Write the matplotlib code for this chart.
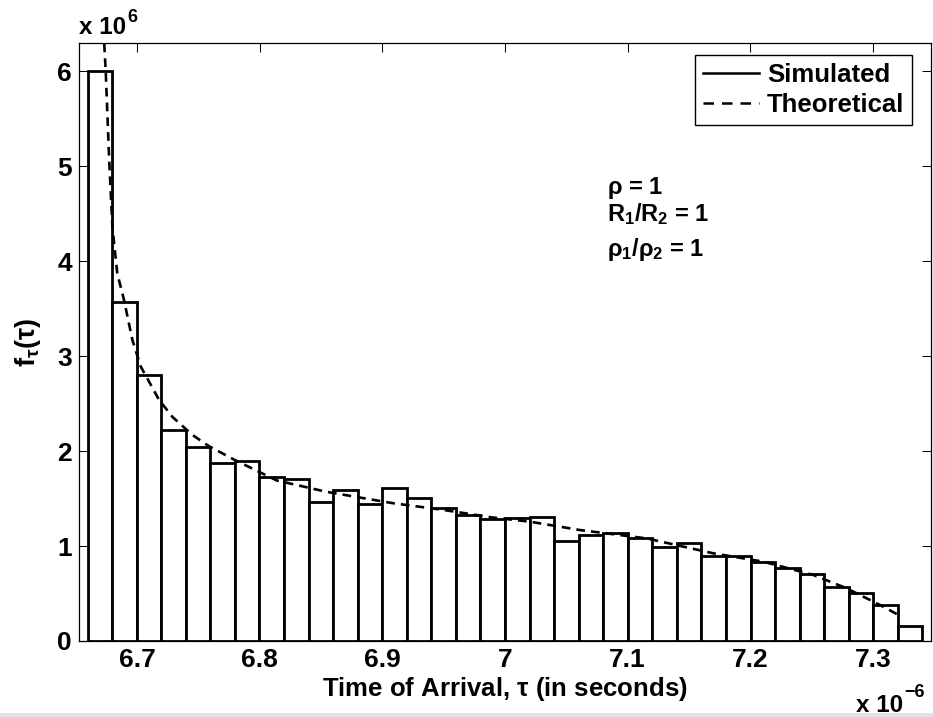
import numpy as np
import matplotlib
matplotlib.use("Agg")
import matplotlib.pyplot as plt
from matplotlib.lines import Line2D
from matplotlib.patches import Rectangle

plt.rcParams['font.family'] = ['Liberation Sans', 'DejaVu Sans']
plt.rcParams['font.weight'] = 'bold'
plt.rcParams['mathtext.fontset'] = 'custom'
plt.rcParams['mathtext.rm'] = 'Liberation Sans:bold'
plt.rcParams['mathtext.bf'] = 'Liberation Sans:bold'
plt.rcParams['mathtext.it'] = 'Liberation Sans:bold'

# histogram of simulated arrival times (x in microseconds, heights in 1e6)
bin_lo, bin_hi, n_bins = 6.6597, 7.3403, 34
sim_heights = [6.00, 3.57, 2.80, 2.22, 2.04, 1.87, 1.90, 1.73, 1.71, 1.46,
               1.59, 1.44, 1.61, 1.51, 1.40, 1.33, 1.28, 1.29, 1.31, 1.05,
               1.12, 1.14, 1.08, 0.99, 1.03, 0.89, 0.89, 0.83, 0.77, 0.71,
               0.57, 0.51, 0.38, 0.16]

# theoretical pdf
theo_x = [6.6720, 6.6745, 6.6772, 6.6799, 6.6839, 6.6894, 6.6962, 6.7030,
          6.7179, 6.7288, 6.7451, 6.7587, 6.7805, 6.8139, 6.8546, 6.9089,
          6.9497, 6.9900, 7.0204, 7.0611, 7.1155, 7.1698, 7.2106, 7.2514,
          7.2785, 7.3057, 7.3234]
theo_y = [6.60, 5.99, 5.10, 4.36, 3.87, 3.59, 3.17, 2.89, 2.54, 2.36,
          2.17, 2.05, 1.90, 1.69, 1.57, 1.45, 1.38, 1.30, 1.256, 1.168,
          1.08, 0.923, 0.835, 0.695, 0.555, 0.379, 0.256]

xticks = [6.7, 6.8, 6.9, 7.0, 7.1, 7.2, 7.3]
xticklabels = ['6.7', '6.8', '6.9', '7', '7.1', '7.2', '7.3']
yticks = [0, 1, 2, 3, 4, 5, 6]

fig = plt.figure(figsize=(9.33, 7.17), dpi=100)
ax = fig.add_axes([79/933, 1 - 641/717, 852/933, 598/717])

edges = np.linspace(bin_lo, bin_hi, n_bins + 1)
ax.bar(edges[:-1], sim_heights, width=np.diff(edges), align='edge',
       facecolor='white', edgecolor='black', linewidth=2.0, zorder=2)
ax.plot(theo_x, theo_y, color='black', linewidth=1.9,
        linestyle=(0, (3.3, 2.3)), zorder=3)

ax.set_xlim(6.6527, 7.3473)
ax.set_ylim(0, 6.295)
ax.set_xticks(xticks)
ax.set_xticklabels(xticklabels)
ax.set_yticks(yticks)
ax.tick_params(direction='in', length=6.5, width=0.75, top=True, right=True,
               labelsize=19, pad=5)
for lab in ax.get_xticklabels() + ax.get_yticklabels():
    lab.set_fontweight('bold')
for s in ax.spines.values():
    s.set_linewidth(0.9)

ax.set_xlabel(r'Time of Arrival, $\tau$ (in seconds)', fontsize=18.5,
              fontweight='bold', labelpad=2)
ax.set_ylabel(r'$f_{\tau}(\tau)$', fontsize=19.5, labelpad=10)

# axis multipliers, MATLAB style
fig.text(79/933, 1 - 34/717, 'x 10', fontsize=17.5, fontweight='bold',
         ha='left', va='baseline')
fig.text(127/933, 1 - 22/717, '6', fontsize=13, fontweight='bold',
         ha='left', va='baseline')
fig.text(903/933, 1 - 712/717, 'x 10', fontsize=17.5, fontweight='bold',
         ha='right', va='baseline')
fig.text(904/933, 1 - 697/717, '\u22126', fontsize=13, fontweight='bold',
         ha='left', va='baseline')

handles = [Line2D([], [], color='black', linewidth=1.8),
           Line2D([], [], color='black', linewidth=1.8, linestyle=(0, (4.2, 3.2)))]
leg = ax.legend(handles, ['Simulated', 'Theoretical'], loc='upper right',
                bbox_to_anchor=((912 - 79)/852, (641 - 55)/598),
                borderaxespad=0, fancybox=False, framealpha=1,
                edgecolor='black', fontsize=18.5, handlelength=2.2,
                handletextpad=0.3, borderpad=0.3, labelspacing=0.25)
leg.get_frame().set_linewidth(1.0)
for t in leg.get_texts():
    t.set_fontweight('bold')

tx = (607 - 79)/852
ax.text(tx, (641 - 194)/598, r'$\rho$ = 1', transform=ax.transAxes,
        fontsize=17, fontweight='bold', va='baseline')
ax.text(tx, (641 - 221)/598, r'R$_1$/R$_2$ = 1', transform=ax.transAxes,
        fontsize=17, fontweight='bold', va='baseline')
ax.text(tx, (641 - 256)/598, r'$\rho_1$/$\rho_2$ = 1', transform=ax.transAxes,
        fontsize=17, fontweight='bold', va='baseline')

# faint grey strip along the bottom edge of the scan
fig.patches.append(Rectangle((0, 0), 1, 4/717, transform=fig.transFigure,
                             facecolor='#e2e2e2', edgecolor='none'))

fig.savefig('out.png', dpi=100)
